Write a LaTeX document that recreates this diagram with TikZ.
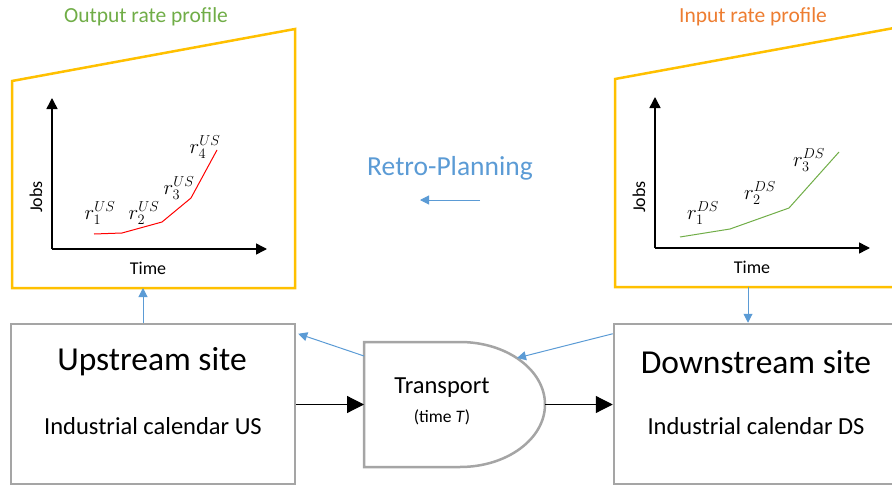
\documentclass[tikz,border=0pt]{standalone}
\usepackage{fontspec}
\setmainfont{Carlito}
\usetikzlibrary{arrows.meta}
\definecolor{frameyellow}{HTML}{FFC000}
\definecolor{boxgray}{HTML}{A5A5A5}
\definecolor{planblue}{HTML}{5B9BD5}
\definecolor{outgreen}{HTML}{70AD47}
\definecolor{inorange}{HTML}{ED7D31}
\definecolor{curvegreen}{HTML}{70AD47}
\tikzset{
  site/.style={draw=boxgray, line width=2.5pt, fill=white, minimum width=284pt,
               minimum height=160pt, inner sep=0pt},
  frame/.style={draw=frameyellow, line width=2.5pt, line join=miter},
  axis/.style={line width=1.5pt, -{Triangle[length=11pt,width=11pt]}},
  flow/.style={line width=1.2pt, -{Triangle[length=17pt,width=17pt]}},
  plan/.style={draw=planblue, line width=1pt, -{Triangle[length=9pt,width=9pt]}, fill=none},
  ttl/.style={font=\fontsize{33.5}{36}\selectfont, inner sep=0pt},
  sub/.style={font=\fontsize{24.5}{27}\selectfont, inner sep=0pt},
  axlbl/.style={font=\fontsize{18}{20}\selectfont, inner sep=0pt},
  rlbl/.style={font=\fontsize{21}{23}\selectfont, inner sep=0pt},
  head/.style={font=\fontsize{21.5}{24}\selectfont, inner sep=0pt},
}
\begin{document}
\begin{tikzpicture}[x=1pt,y=-1pt]
\useasboundingbox (0,0) rectangle (892,487);
\clip (0,0) rectangle (892,487);

% ---- profile frames ----
\draw[frame] (12,81) coordinate (lfTL) -- (295,29) coordinate (lfTR)
  -- (295,288) coordinate (lfBR) -- (12,288) coordinate (lfBL) -- cycle;
\coordinate (lfB) at (143,288);
\draw[frame] (615,79) coordinate (rfTL) -- (905,26) coordinate (rfTR)
  -- (905,287) coordinate (rfBR) -- (615,287) coordinate (rfBL) -- cycle;
\coordinate (rfB) at (748,287);

\node[head, text=outgreen] (outhead) at (146,17) {Output rate profile};
\node[head, text=inorange] (inhead) at (753,17) {Input rate profile};

% ---- upstream chart ----
\coordinate (lO) at (52,249);
\coordinate (lY) at (52,98);
\coordinate (lX) at (267,249);
\draw[axis] (lO) -- (lY);
\draw[axis] (lO) -- (lX);
\node[axlbl, rotate=90] (ljobs) at (36,197) {Jobs};
\node[axlbl] (ltime) at (148,268) {Time};
\draw[red, line width=1pt] (94,234) -- (122,233) -- (162,222) -- (191,198) -- (217,150);
\node[rlbl] (r1us) at (100,213) {$r_1^{US}$};
\node[rlbl] (r2us) at (144,213) {$r_2^{US}$};
\node[rlbl] (r3us) at (179,188) {$r_3^{US}$};
\node[rlbl] (r4us) at (205,147) {$r_4^{US}$};

% ---- downstream chart ----
\coordinate (rO) at (655,248);
\coordinate (rY) at (655,97);
\coordinate (rX) at (870,248);
\draw[axis] (rO) -- (rY);
\draw[axis] (rO) -- (rX);
\node[axlbl, rotate=90] (rjobs) at (639,197) {Jobs};
\node[axlbl] (rtime) at (752,267) {Time};
\draw[curvegreen, line width=1pt] (680,237) -- (730,229) -- (789,208) -- (839,152);
\node[rlbl] (r1ds) at (703,213) {$r_1^{DS}$};
\node[rlbl] (r2ds) at (760,193) {$r_2^{DS}$};
\node[rlbl] (r3ds) at (809,160) {$r_3^{DS}$};

% ---- retro-planning ----
\node[font=\fontsize{27.5}{30}\selectfont, text=planblue, inner sep=0pt] (retro) at (450,168) {Retro-Planning};
\coordinate (rpS) at (480,200);
\coordinate (rpE) at (420,200);
\draw[plan] (rpS) -- (rpE);

% ---- sites ----
\node[site] (up) at (153,404) {};
\node[ttl] (uptitle) at (152,362) {Upstream site};
\node[sub] (upcal) at (153,426) {Industrial calendar US};
\node[site] (down) at (756,404) {};
\node[ttl] (downtitle) at (756,362) {Downstream site};
\node[sub] (downcal) at (756,426) {Industrial calendar DS};

% ---- transport (delay shape) ----
\draw[draw=boxgray, line width=2.5pt, fill=white]
  (364,342) coordinate (tNW) -- (460,342)
  .. controls (506.9,342) and (545,370) .. (545,404.5) coordinate (tE)
  .. controls (545,439) and (506.9,467) .. (460,467)
  -- (364,467) coordinate (tSW) -- cycle;
\coordinate (tW) at (364,404.5);
\coordinate (tNWs) at (364,356);
\coordinate (tArc) at (517,358);
\node[font=\fontsize{24.5}{27}\selectfont, inner sep=0pt] (trans) at (442,388) {Transport};
\node[font=\fontsize{17.5}{20}\selectfont, inner sep=0pt] (transtime) at (442,417) {(time \textit{T})};

% ---- material flow ----
\draw[flow] (up.east |- tW) -- (tW);
\draw[flow] (tE) -- (down.west |- tE);

% ---- planning flow ----
\draw[plan] ([xshift=-10pt]up.north) -- (lfB);
\draw[plan] (rfB) -- ([xshift=-8pt]down.north);
\draw[plan] (tNWs) -- ([xshift=2pt,yshift=-11pt]up.north east);
\draw[plan] ([yshift=-11pt]down.north west) -- (tArc);
\end{tikzpicture}
\end{document}
